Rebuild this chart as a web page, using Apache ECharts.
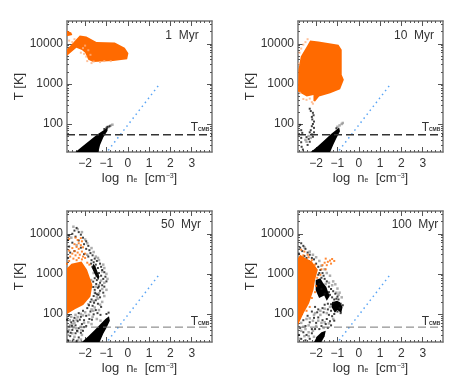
<!DOCTYPE html>
<html><head><meta charset="utf-8">
<style>html,body{margin:0;padding:0;background:#fff}#c{width:463px;height:382px}</style>
<script src="https://cdn.jsdelivr.net/npm/echarts@6/dist/echarts.min.js"></script>
</head><body><div id="c"></div>
<script>
const panelTitles = ['1  Myr','10  Myr','50  Myr','100  Myr'];
const xMajor = [-2,-1,0,1,2,3];
const xMinor = [-2.8,-2.6,-2.4,-2.2,-1.8,-1.6,-1.4,-1.2,-0.8,-0.6,-0.4,-0.2,0.2,0.4,0.6,0.8,1.2,1.4,1.6,1.8,2.2,2.4,2.6,2.8,3.2,3.4,3.6,3.8];
const yMajor = [100,1000,10000];
const yMinor = [30,40,50,60,70,80,90,200,300,400,500,600,700,800,900,2000,3000,4000,5000,6000,7000,8000,9000,20000,30000];
const tCmb = [54,54,47,47];
const blueLine = [[-0.92,22],[1.5,1000]];

const orange1 = [[-2.85,7300],[-2.5,11500],[-2.25,16150],[-1.94,15250],[-1.47,11000],[-0.61,10800],[-0.14,8000],[0.03,5800],[-0.03,4100],[-0.69,3700],[-1.625,3500],[-1.85,4000],[-2.0,6000],[-2.15,7000],[-2.41,8000],[-2.85,5000]];
const orange1b = [[-2.85,21000],[-2.65,19000],[-2.6,16500],[-2.85,15500]];
const orange2 = [[-2.85,708],[-2.83,2239],[-2.72,4820],[-2.44,8580],[-2.28,12100],[-1.89,11430],[-0.95,9440],[-0.8,7080],[-0.8,1679],[-0.7,1259],[-0.875,736],[-1.34,585],[-1.86,482],[-2.05,362],[-2.125,376],[-2.125,531],[-2.44,482],[-2.85,643]];
const orange3 = [[-2.85,1386],[-2.64,1778],[-2.17,2032],[-1.91,1259],[-1.66,531],[-1.75,271],[-2.09,168],[-2.48,131],[-2.85,100]];
const orange4 = [[-2.85,53],[-2.59,104],[-2.33,185],[-2.125,398],[-2.05,708],[-1.92,1259],[-2.2,2032],[-2.48,2466],[-2.75,2985],[-2.85,2466]];

const strip1 = [[-2.45,20],[-2.15,27],[-1.8,38],[-1.45,54],[-1.1,72],[-0.95,80],[-0.95,68],[-1.15,46],[-1.3,30],[-1.38,20]];
const strip2 = [[-2.25,20],[-1.95,27],[-1.6,40],[-1.3,56],[-1.05,72],[-0.92,82],[-0.88,66],[-1.05,44],[-1.2,30],[-1.34,20]];
const strip3 = [[-2.15,20],[-1.85,28],[-1.55,40],[-1.3,55],[-1.05,75],[-0.88,88],[-0.84,68],[-1,45],[-1.15,32],[-1.32,20]];
const dense3 = [[-1.62,1800],[-1.52,1550],[-1.33,850],[-1.38,700],[-1.55,1000],[-1.68,1400]];
const dense4a = [[-2.02,700],[-1.8,780],[-1.68,600],[-1.52,470],[-1.42,330],[-1.36,280],[-1.5,215],[-1.62,290],[-1.86,250],[-2.02,390]];
const dense4b = [[-1.25,195],[-1.02,215],[-0.88,195],[-0.76,150],[-0.82,105],[-1.0,125],[-1.12,108],[-1.28,150]];
const dense4c = [[-2.1,20],[-1.95,28],[-1.75,35],[-1.55,38],[-1.6,28],[-1.75,20]];

const black1 = [[-1.1,75],[-1,78],[-0.95,85],[-0.85,88]];
const grey1 = [[-0.98,82],[-0.9,84],[-0.8,92],[-0.72,96]];
const pale1 = [[-2.75,12000],[-2.6,11000],[-2.5,13000],[-2.2,6000],[-2.05,5600],[-1.95,4800],[-1.9,3700],[-1.7,3300],[-1.6,3600],[-2.1,7800],[-1.85,6900],[-2,9000],[-1.75,5300],[-1.3,3500],[-1.1,3700],[-0.8,3700]];

const black2 = [[-2.3,240],[-2.25,210],[-2.15,190],[-2.12,165],[-2.2,150],[-2.18,130],[-2.1,115],[-2.15,100],[-2.2,88],[-2.1,80],[-2.25,70],[-2.75,95],[-2.7,70],[-2.65,60],[-2.7,45],[-2.7,35],[-2.68,27],[-2.62,23],[-2.35,42],[-2.3,36],[-2.4,30],[-2.45,47],[-2.3,62],[-2.2,55],[-2.15,48],[-2.1,62],[-1.05,78]];
const grey2 = [[-1,85],[-0.9,92],[-0.8,100],[-0.75,106],[-2.5,40],[-2.45,36],[-2.35,50],[-2.25,45]];
const pale2 = [[-2.78,6000],[-2.7,7600],[-2.6,9500],[-2.5,11000],[-2.4,13000],[-2.8,3200],[-2.75,600],[-2.6,420],[-2.45,400],[-2.3,430],[-2.2,350],[-2.15,320]];

const black3 = [[-2.4,14000],[-2.5,12000],[-2.3,11000],[-2.6,10000],[-2.2,9500],[-2.75,9000],[-2.45,8500],[-2.1,8000],[-2.8,7000],[-2.3,6800],[-1.95,6500],[-2.6,6000],[-2.05,5500],[-1.85,5000],[-2.75,4800],[-2.2,4500],[-1.95,4200],[-1.8,3900],[-2.5,3700],[-2.7,3400],[-1.75,3300],[-2.05,3100],[-1.65,2900],[-1.85,2700],[-2.8,2500],[-1.55,2400],[-1.7,2200],[-1.45,2100],[-1.6,1950],[-1.3,1800],[-1.5,1700],[-1.25,1500],[-1.4,1400],[-1.2,1250],[-1.1,1100],[-1.35,1050],[-1.25,900],[-1.05,850],[-1.15,750],[-1.45,700],[-1.3,600],[-1,650],[-1.2,520],[-1.1,480],[-1.4,450],[-1.55,400],[-1.3,380],[-1.15,340],[-1.45,310],[-1.6,280],[-1.3,260],[-1.5,220],[-1.75,200],[-1.4,180],[-1.65,160],[-1.25,150],[-1.9,140],[-1.5,125],[-1.75,115],[-2.1,120],[-2.3,105],[-1.6,98],[-1.95,90],[-2.2,85],[-2.5,80],[-2.75,92],[-1.8,75],[-2.05,70],[-2.35,66],[-2.65,62],[-2.85,72],[-2.15,56],[-2.45,52],[-2.75,48],[-1.95,50],[-2.3,44],[-2.6,40],[-2.8,36],[-2.1,38],[-2.45,33],[-2.7,28],[-2.3,26],[-2.55,23],[-2.8,22],[-2.4,21],[-1,100],[-0.9,108],[-1.72,1800],[-1.66,1500],[-1.58,1250],[-1.5,1150],[-1.42,950],[-1.55,780],[-1.62,640],[-1.48,560],[-1.36,480],[-1.62,470],[-1.52,330],[-1.38,300],[-1.7,230],[-1.58,190],[-1.82,165],[-1.42,105],[-1.28,95],[-1.68,72],[-2.25,72],[-2.55,68],[-2.05,47],[-2.62,50],[-2.38,38],[-2.2,34],[-2.68,34]];
const grey3 = [[-2.55,15000],[-2.35,13000],[-2.15,11000],[-2.65,8000],[-2,7200],[-1.9,5800],[-2.4,5200],[-1.7,4400],[-1.6,3500],[-1.9,3000],[-1.5,2700],[-1.4,2500],[-1.35,2200],[-1.15,1700],[-1.1,1400],[-1.2,1150],[-1,1000],[-0.95,750],[-1.25,680],[-1.1,600],[-1.35,520],[-1.5,480],[-1.2,420],[-1,400],[-1.35,330],[-1.55,340],[-1.1,280],[-1.4,240],[-1.2,200],[-1.6,210],[-1.85,175],[-1.3,170],[-1.55,145],[-2,110],[-1.7,130],[-1.35,125],[-2.2,100],[-2.45,95],[-2.65,85],[-1.65,85],[-1.85,62],[-2.05,60],[-2.4,72],[-2.6,55],[-2.2,48],[-2.55,46],[-2.75,40],[-2.15,30],[-2.35,37],[-2.6,33],[-2.8,30],[-2.5,27],[-2.2,23],[-2.7,21],[-2.35,22],[-1.48,900],[-1.6,1050],[-1.72,700],[-1.45,260],[-1.62,120],[-1.82,95],[-2.1,92],[-2.35,84],[-1.45,75],[-1.7,56],[-2.5,60],[-2.72,70],[-2.42,44],[-2.7,52],[-2.18,40],[-1.28,68]];
const pale3 = [[-2.75,7500],[-2.45,8000],[-2.35,7000],[-2.2,7800],[-2.15,6500],[-2.3,5800],[-2.5,5500],[-2.2,5200],[-2.4,4700],[-2.6,4400],[-2.1,4600],[-2.3,4200],[-2.75,3800],[-2.5,3700],[-2.15,3600],[-2.35,3400],[-2.6,3200],[-2,3200],[-2.25,3000],[-2.45,2900],[-2.7,2700],[-2.1,2700],[-2.3,2500],[-2.55,2400],[-2.75,2100],[-2,2500],[-1.9,1900],[-1.8,1700],[-2.85,1800],[-2.4,2200],[-2.15,2300]];

const black4 = [[-2.7,5800],[-2.6,5000],[-2.75,4500],[-2.5,4200],[-2.65,3700],[-2.4,3400],[-2.8,3200],[-2.3,3000],[-2.55,2800],[-2.2,2500],[-2.1,2300],[-2.35,2100],[-2,1800],[-1.9,1500],[-2.05,1300],[-1.8,1250],[-1.7,1050],[-1.9,950],[-1.75,800],[-1.6,750],[-1.5,650],[-1.85,560],[-1.4,480],[-1.3,420],[-1.2,370],[-1.1,320],[-1,270],[-0.95,230],[-0.85,180],[-0.75,165],[-0.9,140],[-1,115],[-0.85,105],[-1.15,100],[-1.4,95],[-1.25,88],[-1.65,110],[-1.9,130],[-2.05,150],[-2.2,115],[-1.5,75],[-1.7,70],[-1.35,66],[-1.15,68],[-1.9,82],[-2.1,80],[-2.4,90],[-2.6,70],[-1.55,56],[-1.75,50],[-1.3,52],[-2,60],[-2.3,62],[-2.5,50],[-2.75,45],[-1.45,45],[-2.2,42],[-1.85,42],[-2.6,35],[-2.8,30],[-2.45,30],[-2.2,33],[-2.7,24],[-2.5,22],[-2.3,24],[-2.05,42],[-2.45,2500],[-2.25,1900],[-2.12,1500],[-1.35,300],[-1.25,260],[-1.15,230],[-1.05,240],[-1.2,190],[-1.6,170],[-1.45,180],[-1.3,175],[-1.7,140],[-1.45,130],[-1.3,120],[-1.95,110],[-1.6,320],[-1.4,350],[-1.75,420],[-1.95,480],[-1.65,900],[-1.85,1050]];
const grey4 = [[-2.55,4600],[-2.3,3600],[-2.15,3000],[-2,2600],[-1.85,2100],[-1.75,1600],[-1.6,1300],[-1.5,1050],[-1.35,900],[-1.2,650],[-1.1,550],[-1,430],[-0.9,340],[-0.8,260],[-1.7,400],[-1.45,320],[-1.1,180],[-1.35,150],[-1.6,135],[-1.8,120],[-2.05,105],[-1.5,105],[-1.2,75],[-1.6,62],[-1.9,68],[-1.4,58],[-2.15,68],[-2.45,75],[-2.7,60],[-2.35,52],[-2.6,48],[-1.65,45],[-2,50],[-2.15,38],[-2.35,35],[-2.7,38],[-2.55,28],[-2.8,24],[-2.35,28],[-2.1,27],[-1.55,560],[-1.4,600],[-1.25,520],[-1.05,340],[-0.95,300],[-1.8,95],[-2.1,95],[-2.3,78],[-1.75,60],[-2.5,42]];
const pale4 = [[-2.7,4000],[-2.55,3600],[-2.6,2900],[-2.4,3000],[-2.35,2600],[-2.2,2200],[-1.55,2400],[-1.45,2000],[-1.35,2150],[-1.25,2350],[-1.6,1900],[-1.5,1650],[-1.3,1800],[-1.15,2100],[-1.7,1650],[-1.55,1300],[-1.75,1300],[-2.05,1700],[-1.8,950],[-1.95,800],[-2,500],[-2.05,350],[-2.2,250],[-2.3,150],[-2.45,120]];

const blobs = [[orange1,orange1b],[orange2],[orange3],[orange4]];
const strips = [[strip1],[strip2],[strip3,dense3],[dense4a,dense4b,dense4c]];
const blacks = [black1,black2,black3,black4];
const greys = [grey1,grey2,grey3,grey4];
const pales = [pale1,pale2,pale3,pale4];

const grids = [{left:67,top:21},{left:298,top:21},{left:67,top:211},{left:298,top:211}];
const titlePos = [[177,25],[409,25],[176,214],[410,214]];
const cmbPos = [[195,117],[426,117],[195,311],[426,311]];
const ORANGE='#ff6a00', TXT='#333', FRAME='#777';
const FONT='"Liberation Sans",Arial,sans-serif';
const xMin=-2.85, xMax=3.95, yMin=20, yMax=37000;

function xA(g,pos,vals,major,labelled){
  const a={type:'value',gridIndex:g,position:pos,min:xMin,max:xMax,splitLine:{show:false},
    axisLine:{show:major,onZero:false,lineStyle:{color:FRAME,width:1.5}},
    axisTick:{show:true,inside:true,length:major?5:2,customValues:vals,lineStyle:{color:'#555',width:1}},
    axisLabel:{show:!!labelled,customValues:vals,margin:6,fontFamily:FONT,fontSize:12,color:TXT,
      formatter:function(v){return String(v).replace('-','\u2212');}}};
  if(labelled){
    a.name='log  n{s|e}  [cm{u|\u22123}]';
    a.nameLocation='middle';
    a.nameGap=20;
    a.nameTextStyle={fontFamily:FONT,fontSize:13,color:TXT,rich:{
      s:{fontFamily:FONT,fontSize:7,color:TXT,padding:[4,0,0,0]},
      u:{fontFamily:FONT,fontSize:7,color:TXT,padding:[0,0,5,0]}}};
  }
  return a;
}
function yA(g,pos,vals,major,labelled){
  const a={type:'log',logBase:10,gridIndex:g,position:pos,min:yMin,max:yMax,splitLine:{show:false},
    axisLine:{show:major,onZero:false,lineStyle:{color:FRAME,width:1.5}},
    axisTick:{show:true,inside:true,length:major?5:2,customValues:vals,lineStyle:{color:'#555',width:1}},
    axisLabel:{show:!!labelled,customValues:vals,margin:4,fontFamily:FONT,fontSize:12,color:TXT,
      formatter:function(v){return String(Math.round(v));}}};
  if(labelled){
    a.name='T [K]';
    a.nameLocation='middle';
    a.nameGap=41;
    a.nameRotate=90;
    a.nameTextStyle={fontFamily:FONT,fontSize:13,color:TXT};
  }
  return a;
}
function polySeries(i,poly,color,z){
  return {type:'custom',xAxisIndex:4*i,yAxisIndex:4*i,data:poly,z:z,clip:true,silent:true,
    encode:{x:0,y:1},
    renderItem:function(params,api){
      if(params.dataIndex!==0) return null;
      return {type:'polygon',shape:{points:poly.map(function(p){return api.coord(p);})},style:{fill:color}};
    }};
}
function specks(i,data,color,size,z){
  return {type:'scatter',xAxisIndex:4*i,yAxisIndex:4*i,data:data,symbol:'rect',symbolSize:size,
    itemStyle:{color:color},z:z,silent:true,clip:true};
}
const option={animation:false,backgroundColor:'#fff',grid:[],xAxis:[],yAxis:[],series:[],title:[]};
grids.forEach(function(gr,i){
  option.grid.push({left:gr.left,top:gr.top,width:145,height:131,containLabel:false});
  option.xAxis.push(xA(i,'bottom',xMajor,true,true),xA(i,'top',xMajor,true,false),xA(i,'bottom',xMinor,false,false),xA(i,'top',xMinor,false,false));
  option.yAxis.push(yA(i,'left',yMajor,true,true),yA(i,'right',yMajor,true,false),yA(i,'left',yMinor,false,false),yA(i,'right',yMinor,false,false));
  strips[i].forEach(function(p){option.series.push(polySeries(i,p,'#000',3));});
  option.series.push(specks(i,greys[i],'#999',2.5,2));
  option.series.push(specks(i,blacks[i],'#111',2,3));
  blobs[i].forEach(function(p){option.series.push(polySeries(i,p,ORANGE,4));});
  option.series.push(specks(i,pales[i],i<2?'#ffb080':ORANGE,2,4));
  option.series.push({type:'line',xAxisIndex:4*i,yAxisIndex:4*i,data:blueLine,showSymbol:false,z:5,silent:true,
    lineStyle:{color:'#5aa5f5',width:1.5,type:[1.5,3.5]}});
  option.series.push({type:'line',xAxisIndex:4*i,yAxisIndex:4*i,data:[[xMin,tCmb[i]],[xMax,tCmb[i]]],showSymbol:false,z:6,silent:true,
    lineStyle:i<2?{color:'#333',width:1.5,type:[8,4]}:{color:'#777',width:1,type:[8,4]}});
  option.title.push({text:panelTitles[i],left:titlePos[i][0],top:titlePos[i][1],textAlign:'center',
    textStyle:{fontFamily:FONT,fontSize:12,fontWeight:'normal',color:TXT}});
  option.title.push({text:'T{s|CMB}',left:cmbPos[i][0],top:cmbPos[i][1],textAlign:'center',
    textStyle:{fontFamily:FONT,fontSize:12,fontWeight:'normal',color:TXT,
      rich:{s:{fontFamily:FONT,fontSize:5,fontWeight:'bold',color:TXT,padding:[4,0,0,0]}}}});
});
echarts.init(document.getElementById('c'),null,{renderer:'canvas'}).setOption(option);
</script>
</body></html>
